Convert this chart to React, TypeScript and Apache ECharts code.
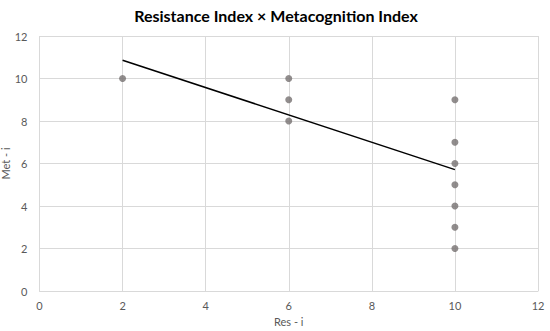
import React, { useEffect, useRef } from "react";
import * as echarts from "echarts";

const points: [number, number][] = [
  [2, 10],
  [6, 10],
  [6, 9],
  [6, 8],
  [10, 9],
  [10, 7],
  [10, 6],
  [10, 5],
  [10, 4],
  [10, 3],
  [10, 2],
];
const trendLine: [number, number][] = [
  [2, 10.86],
  [10, 5.71],
];
const title = "Resistance Index × Metacognition Index";
const xName = "Res - i";
const yName = "Met - i";

export default function App() {
  const ref = useRef<HTMLDivElement>(null);
  useEffect(() => {
    if (!ref.current) return;
    const chart = echarts.init(ref.current, undefined, { renderer: "svg" });
    const font = "Lato, 'Open Sans', sans-serif";
    chart.setOption({
      animation: false,
      backgroundColor: "#fff",
      title: {
        text: title,
        left: 271,
        textAlign: "center",
        top: 2,
        textStyle: { fontFamily: font, fontSize: 16, fontWeight: "bold", color: "#000" },
      },
      grid: { left: 39.5, right: 12, top: 36, bottom: 40, containLabel: false, outerBoundsMode: "none" },
      xAxis: {
        type: "value",
        min: 0,
        max: 12,
        interval: 2,
        name: xName,
        nameLocation: "middle",
        nameGap: 25,
        nameMoveOverlap: false,
        nameTextStyle: { fontFamily: font, fontSize: 11, color: "#595959" },
        axisLine: { show: true, lineStyle: { color: "#d9d9d9" } },
        axisTick: { show: false },
        axisLabel: { fontFamily: font, fontSize: 11, color: "#595959", margin: 9 },
        splitLine: { show: true, lineStyle: { color: "#d9d9d9" } },
      },
      yAxis: {
        type: "value",
        min: 0,
        max: 12,
        interval: 2,
        name: yName,
        nameLocation: "middle",
        nameGap: 29,
        nameMoveOverlap: false,
        nameTextStyle: { fontFamily: font, fontSize: 11, color: "#595959" },
        axisLine: { show: false },
        axisTick: { show: false },
        axisLabel: { fontFamily: font, fontSize: 11, color: "#595959", margin: 12 },
        splitLine: { show: true, lineStyle: { color: "#d9d9d9" } },
      },
      series: [
        {
          type: "scatter",
          data: points,
          symbolSize: 7,
          itemStyle: { color: "#767171" },
          z: 3,
        },
        {
          type: "line",
          data: trendLine,
          showSymbol: false,
          symbol: "none",
          lineStyle: { color: "#000", width: 1.5 },
          z: 2,
        },
      ],
    });
    return () => chart.dispose();
  }, []);
  return (
    <div
      ref={ref}
      style={{ position: "absolute", left: 0, top: 0, width: 550, height: 331 }}
    />
  );
}
